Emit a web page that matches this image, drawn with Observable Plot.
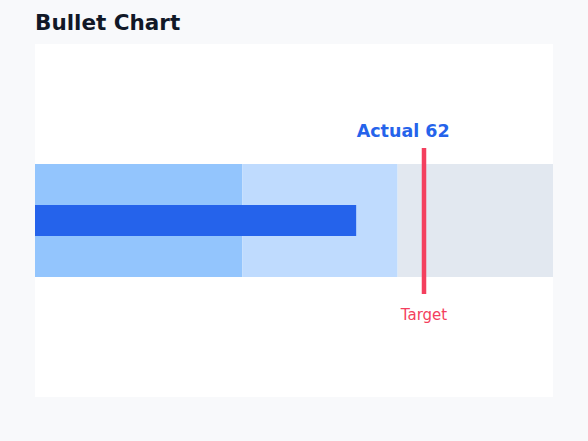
<!DOCTYPE html>
<html><head><meta charset="utf-8">
<script src="https://cdn.jsdelivr.net/npm/d3@7"></script>
<script src="https://cdn.jsdelivr.net/npm/@observablehq/plot@0.6"></script>
<style>
body{margin:0;background:#f8f9fb;font-family:"DejaVu Sans",sans-serif;width:588px;height:441px;position:relative;overflow:hidden}
#title{position:absolute;left:35px;top:11px;margin:0;font-size:21.5px;line-height:24px;font-weight:bold;color:#111827}
#chart{position:absolute;left:35px;top:44px;background:#fff}
</style></head><body>
<div id="title">Bullet Chart</div>
<div id="chart"></div>
<script>
const rangeStarts = [0, 40, 70];
const rangeEnds = [40, 70, 100];
const rangeColors = ["#93c5fd", "#bfdbfe", "#e2e8f0"];
const actualValue = [62];
const targetValue = [75];
const actualLabel = ["Actual 62"];
const targetLabel = ["Target"];

const ranges = rangeStarts.map((s, i) => ({s, e: rangeEnds[i], c: rangeColors[i]}));

const chart = Plot.plot({
  width: 518, height: 353,
  margin: 0,
  style: {background: "#fff", fontFamily: "DejaVu Sans, sans-serif"},
  x: {domain: [0, 100], range: [0, 518], axis: null},
  y: {domain: [0, 353], range: [0, 353], axis: null},
  marks: [
    Plot.rectX(ranges, {x1: "s", x2: "e", y1: 120, y2: 233, fill: d => d.c, inset: 0}),
    Plot.rectX(actualValue, {x1: 0, x2: d => d, y1: 161, y2: 192, fill: "#2563eb", inset: 0}),
    Plot.ruleX(targetValue, {x: d => d, y1: 104, y2: 250, stroke: "#f43f5e", strokeWidth: 4.5}),
    Plot.text(actualValue, {x: d => d, y: 86.4, text: (d, i) => actualLabel[i], textAnchor: "start", fill: "#2563eb", fontWeight: "bold", fontSize: 17.5}),
    Plot.text(targetValue, {x: d => d, y: 270.2, text: (d, i) => targetLabel[i], fill: "#f43f5e", fontSize: 15})
  ]
});
document.getElementById("chart").appendChild(chart);
</script>
</body></html>
